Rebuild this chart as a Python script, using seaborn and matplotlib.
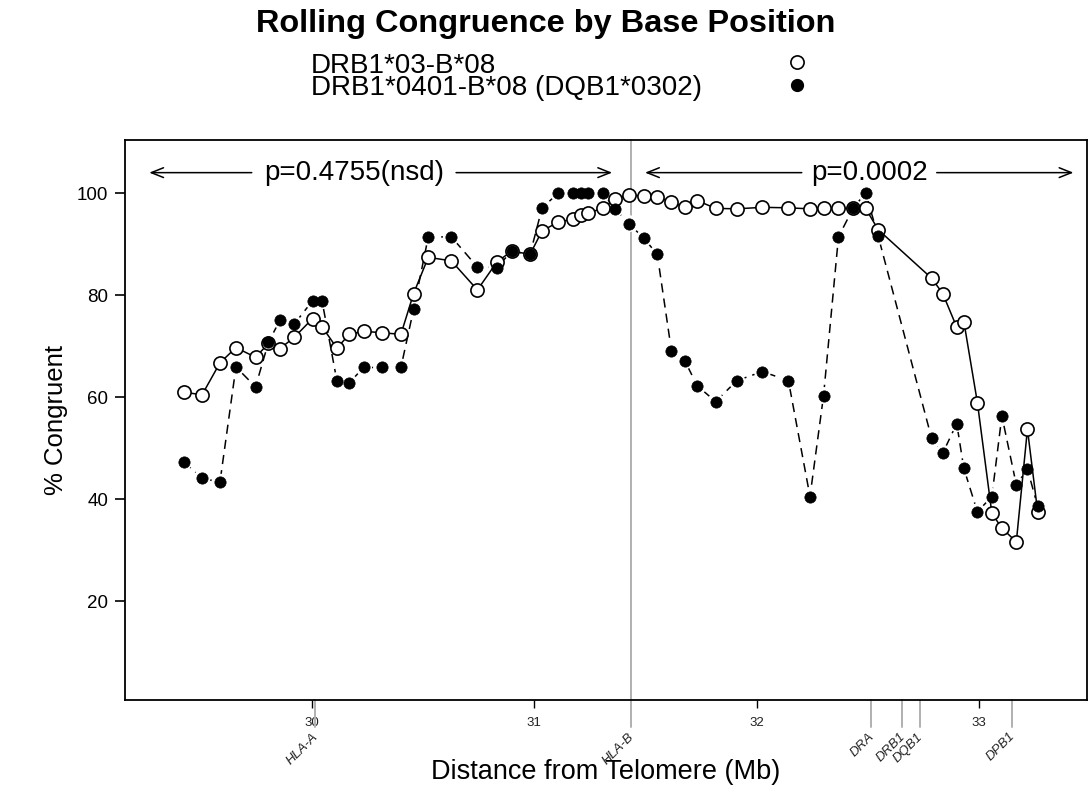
import numpy as np
import pandas as pd
import matplotlib
matplotlib.use("Agg")
import matplotlib.pyplot as plt
import matplotlib.transforms as mtransforms
from matplotlib.lines import Line2D
import seaborn as sns

# ---------------- data ----------------
position_mb = [29.424, 29.505, 29.586, 29.658, 29.746, 29.804, 29.856, 29.920, 30.003, 30.045,
               30.112, 30.168, 30.232, 30.316, 30.400, 30.457, 30.523, 30.627, 30.744, 30.832,
               30.898, 30.981, 31.035, 31.108, 31.173, 31.208, 31.243, 31.309, 31.363, 31.426,
               31.493, 31.553, 31.617, 31.677, 31.733, 31.816, 31.910, 32.026, 32.143, 32.240,
               32.301, 32.368, 32.435, 32.490, 32.547, 32.787, 32.837, 32.900, 32.932, 32.993,
               33.058, 33.103, 33.168, 33.218, 33.264]

congruence_drb1_03 = [61.0, 60.4, 66.7, 69.7, 67.8, 70.5, 69.5, 71.7, 75.4, 73.8,
                      69.6, 72.3, 72.9, 72.6, 72.3, 80.3, 87.4, 86.7, 81.0, 86.5,
                      88.6, 88.0, 92.6, 94.3, 94.9, 95.6, 96.0, 97.1, 98.9, 99.6,
                      99.4, 99.2, 98.2, 97.2, 98.5, 97.0, 96.9, 97.2, 97.1, 96.9,
                      97.0, 97.0, 97.0, 97.0, 92.8, 83.3, 80.3, 73.7, 74.8, 58.9,
                      37.2, 34.3, 31.6, 53.7, 37.5]

congruence_drb1_0401 = [47.3, 44.1, 43.3, 65.9, 62.0, 70.7, 75.1, 74.3, 78.9, 78.9,
                        63.2, 62.8, 65.8, 65.8, 65.8, 77.2, 91.4, 91.4, 85.5, 85.4,
                        88.6, 88.0, 97.1, 100.0, 100.0, 100.0, 100.0, 100.0, 96.9, 94.0,
                        91.1, 88.0, 69.0, 67.1, 62.2, 59.1, 63.2, 65.0, 63.2, 40.5,
                        60.3, 91.4, 97.1, 100.0, 91.5, 51.9, 49.0, 54.8, 46.0, 37.5,
                        40.5, 56.3, 42.8, 45.9, 38.6]

series_labels = ["DRB1*03-B*08", "DRB1*0401-B*08 (DQB1*0302)"]
gene_names = ["HLA-A", "HLA-B", "DRA", "DRB1", "DQB1", "DPB1"]
gene_pos = [30.014, 31.434, 32.516, 32.655, 32.734, 33.150]
x_ticks = [30, 31, 32, 33]
y_ticks = [20, 40, 60, 80, 100]
p_labels = ["p=0.4755(nsd)", "p=0.0002"]

title = "Rolling Congruence by Base Position"
x_label = "Distance from Telomere (Mb)"
y_label = "% Congruent"

# ---------------- style ----------------
sns.set_theme(style="white")
plt.rcParams["font.family"] = ["Liberation Sans", "DejaVu Sans"]
plt.rcParams["text.color"] = "black"
plt.rcParams["axes.labelcolor"] = "black"
plt.rcParams["xtick.color"] = "black"
plt.rcParams["ytick.color"] = "black"

fig = plt.figure(figsize=(10.88, 7.95), dpi=100)
ax = fig.add_axes([0.1149, 0.1195, 0.8842, 0.7044])

df = pd.DataFrame({"pos": position_mb,
                   "a": congruence_drb1_03,
                   "b": congruence_drb1_0401})

# filled series: dashed line
sns.lineplot(data=df, x="pos", y="b", ax=ax, color="black", lw=1.1, sort=False,
             estimator=None, zorder=2)
ax.lines[-1].set_dashes((6, 4))
# white halo around filled points (type="b" gaps)
sns.scatterplot(data=df, x="pos", y="b", ax=ax, s=150, color="white",
                edgecolor="none", zorder=3)
# open series: solid line
sns.lineplot(data=df, x="pos", y="a", ax=ax, color="black", lw=1.1, sort=False,
             estimator=None, zorder=4)
sns.scatterplot(data=df, x="pos", y="a", ax=ax, s=90, facecolor="white",
                edgecolor="black", linewidth=1.2, zorder=5)
sns.scatterplot(data=df, x="pos", y="b", ax=ax, s=66, color="black",
                edgecolor="black", linewidth=0.5, zorder=6)

ax.set_xlim(29.159, 33.486)
ax.set_ylim(0.6, 110.4)

ax.set_xticks(x_ticks)
ax.set_xticklabels([str(t) for t in x_ticks])
ax.set_yticks(y_ticks)
ax.set_yticklabels([str(t) for t in y_ticks])
ax.tick_params(axis="x", bottom=True, direction="out", length=6, width=1.0,
               labelsize=9.5, pad=6, colors="black", labelcolor="#222222")
ax.tick_params(axis="y", left=True, direction="out", length=7, width=1.2,
               labelsize=13.5, pad=5, colors="black")
for sp in ax.spines.values():
    sp.set_visible(True)
    sp.set_color("black")
    sp.set_linewidth(1.3)

ax.set_xlabel(x_label, fontsize=19.5)
ax.set_ylabel(y_label, fontsize=18.5)
ax.xaxis.set_label_coords(0.5, -0.129)
ax.xaxis.label.set_va("center")
ax.yaxis.set_label_coords(-0.072, 0.5)
ax.yaxis.label.set_va("center")

# gene markers
trans = mtransforms.blended_transform_factory(ax.transData, ax.transAxes)
for name, gp in zip(gene_names, gene_pos):
    top = 1.0 if name == "HLA-B" else 0.0
    ax.plot([gp, gp], [-0.048, top], color="#b0b0b0", lw=1.4, transform=trans,
            clip_on=False, zorder=1)
    ax.text(gp + 0.005, -0.062, name, transform=trans, rotation=45, ha="right",
            va="center", rotation_mode="anchor", fontsize=9.5, style="italic",
            color="#222222")

# p-value arrows
arrow_y = 104
arrow_kw = dict(arrowstyle="->,head_length=0.55,head_width=0.22", lw=1.1,
                color="black", shrinkA=0, shrinkB=0, mutation_scale=16)
ax.annotate("", xy=(29.268, arrow_y), xytext=(29.729, arrow_y), arrowprops=arrow_kw)
ax.annotate("", xy=(31.350, arrow_y), xytext=(30.648, arrow_y), arrowprops=arrow_kw)
ax.text(30.188, arrow_y, p_labels[0], ha="center", va="center", fontsize=20)
ax.annotate("", xy=(31.498, arrow_y), xytext=(32.203, arrow_y), arrowprops=arrow_kw)
ax.annotate("", xy=(33.425, arrow_y), xytext=(32.810, arrow_y), arrowprops=arrow_kw)
ax.text(32.508, arrow_y, p_labels[1], ha="center", va="center", fontsize=20)

# title and legend
fig.text(0.502, 1 - 24 / 795, title, ha="center", va="center", fontsize=23.4,
         weight="bold")
fig.text(311 / 1088, 1 - 77 / 795, "\n".join(series_labels), ha="left", va="center",
         fontsize=20, linespacing=0.82)
handles = [Line2D([], [], ls="none", marker="o", ms=9.5, mfc="white", mec="black", mew=1.2),
           Line2D([], [], ls="none", marker="o", ms=8.5, mfc="black", mec="black")]
ax.legend(handles, ["", ""], loc="center", bbox_to_anchor=(797 / 1088, 1 - 76 / 795),
          bbox_transform=fig.transFigure, frameon=False, fontsize=20,
          labelspacing=-0.1, handlelength=1.0, handletextpad=0.0,
          borderpad=0, borderaxespad=0)

fig.savefig("out.png", dpi=100)
